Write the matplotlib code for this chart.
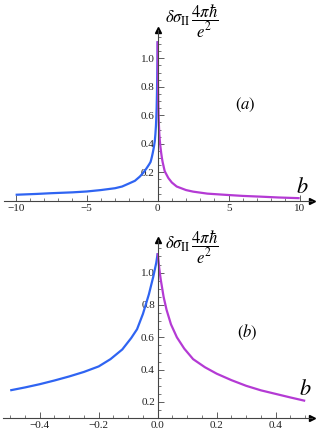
import numpy as np
from matplotlib import pyplot as plt
from matplotlib.ticker import FixedLocator, FuncFormatter

plt.rcParams['font.family'] = ['Liberation Serif', 'DejaVu Serif']
plt.rcParams['mathtext.fontset'] = 'stix'

# values (one function, two branches)
b_neg = [-10, -8.5, -7.5, -6, -5, -4, -3, -2.5, -2, -1.6, -1.25, -1, -0.78, -0.6,
         -0.5, -0.45, -0.4, -0.35, -0.3, -0.25, -0.2, -0.16, -0.12, -0.09, -0.07,
         -0.05, -0.03, -0.015, -0.005, 0]
s_neg = [0.042, 0.048, 0.053, 0.059, 0.065, 0.075, 0.088, 0.1, 0.122, 0.14, 0.17,
         0.198, 0.228, 0.255, 0.272, 0.29, 0.31, 0.333, 0.358, 0.386, 0.42, 0.465,
         0.525, 0.595, 0.65, 0.745, 0.865, 0.975, 1.06, 1.12]
b_pos = [0, 0.005, 0.01, 0.02, 0.03, 0.045, 0.065, 0.09, 0.12, 0.16, 0.2, 0.25,
         0.3, 0.35, 0.4, 0.45, 0.5, 0.75, 1.0, 1.34, 2, 2.5, 3.5, 4.86, 6, 7.2,
         8.5, 10]
s_pos = [1.12, 1.03, 0.96, 0.85, 0.77, 0.68, 0.6, 0.53, 0.465, 0.415, 0.375,
         0.335, 0.3, 0.272, 0.25, 0.228, 0.207, 0.16, 0.128, 0.1, 0.075, 0.064,
         0.05, 0.041, 0.034, 0.029, 0.023, 0.018]

blue = '#2f64f2'
purple = '#b43ad4'
axcol = '#444444'
ylab = r'$\delta\sigma_{\rm II}\,\dfrac{4\pi\hbar}{e^2}$'

fig = plt.figure(figsize=(3.16, 4.32), dpi=100)

def fmt(f):
	return FuncFormatter(lambda v, p: (f % v).replace('-', '\u2212'))

def setup(ax, xlim, ylim, x0, y0, xb, yb, xmaj, xmin, ymaj, ymin, xfmt):
	ax.set_xlim(xlim)
	ax.set_ylim(ylim)
	ax.patch.set_alpha(0)
	for s in ['top', 'right']:
		ax.spines[s].set_visible(False)
	ax.spines['left'].set_position(('data', x0))
	ax.spines['bottom'].set_position(('data', y0))
	ax.spines['left'].set_bounds(y0, yb)
	ax.spines['bottom'].set_bounds(xb[0], xb[1])
	for s in ['left', 'bottom']:
		ax.spines[s].set_color(axcol)
		ax.spines[s].set_linewidth(0.8)
	ax.xaxis.set_major_locator(FixedLocator(xmaj))
	ax.xaxis.set_minor_locator(FixedLocator(xmin))
	ax.yaxis.set_major_locator(FixedLocator(ymaj))
	ax.yaxis.set_minor_locator(FixedLocator(ymin))
	ax.xaxis.set_major_formatter(fmt(xfmt))
	ax.yaxis.set_major_formatter(fmt('%.1f'))
	ax.tick_params(which='major', direction='in', length=4, width=0.6, color=axcol,
	               labelsize=8, pad=2, labelcolor='#222222')
	ax.tick_params(which='minor', direction='in', length=2, width=0.5, color=axcol)
	# arrow heads
	ax.plot(xb[1], y0, '>', color='k', ms=4, clip_on=False)
	ax.plot(x0, yb, '^', color='k', ms=4, clip_on=False)

# panel (a)
axa = fig.add_axes([0, 0.5, 1, 0.5])
axa.plot(b_neg, s_neg, color=blue, lw=1.6, solid_capstyle='butt')
axa.plot(b_pos, s_pos, color=purple, lw=1.6, solid_capstyle='butt')
setup(axa, (-11.1, 11.15), (-0.107, 1.409), 0, 0, (-10.85, 10.85), 1.2,
      [-10, -5, 0, 5, 10], np.arange(-10, 11, 1.0),
      [0.2, 0.4, 0.6, 0.8, 1.0], np.arange(0.05, 1.16, 0.05), '%d')
axa.text(165 / 316, 1 - 3 / 216, ylab, transform=axa.transAxes, fontsize=12, va='top')
axa.text(6.2, 0.672, '$(a)$', fontsize=12, ha='center', va='center')
axa.text(10.2, 0.093, '$b$', fontsize=16, ha='center', va='center')

# panel (b)
axb = fig.add_axes([0, 0, 1, 0.5])
bn = np.array(b_neg)
bp = np.array(b_pos)
kn = bn >= -0.5
kp = bp <= 0.5
axb.plot(bn[kn], np.array(s_neg)[kn], color=blue, lw=1.6, solid_capstyle='butt')
axb.plot(bp[kp], np.array(s_pos)[kp], color=purple, lw=1.6, solid_capstyle='butt')
setup(axb, (-0.5346, 0.5366), (0.0145, 1.35), 0, 0.1, (-0.524, 0.524), 1.2,
      [-0.4, -0.2, 0.0, 0.2, 0.4], np.arange(-0.5, 0.51, 0.05),
      [0.2, 0.4, 0.6, 0.8, 1.0], np.arange(0.15, 1.16, 0.05), '%.1f')
axb.text(165 / 316, 1 - 13 / 216, ylab, transform=axb.transAxes, fontsize=12, va='top')
axb.text(0.303, 0.63, '$(b)$', fontsize=12, ha='center', va='center')
axb.text(0.499, 0.274, '$b$', fontsize=16, ha='center', va='center')

fig.savefig('out.png', dpi=100)
